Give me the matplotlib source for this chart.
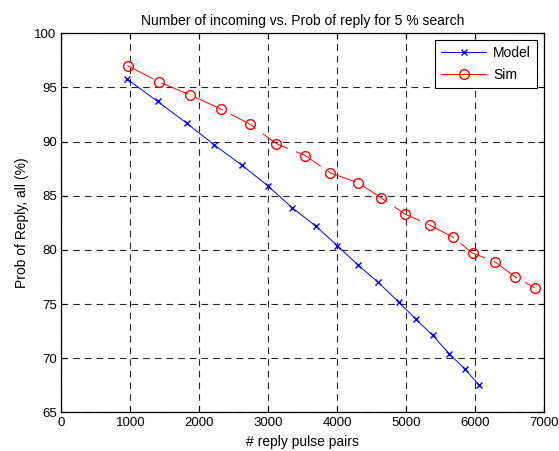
import matplotlib
matplotlib.use('Agg')
import matplotlib.pyplot as plt

plt.rcParams['font.family'] = ['Liberation Sans', 'DejaVu Sans']

# model curve
model_x = [945, 1394, 1814, 2215, 2621, 2997, 3345, 3688, 4003, 4302,
           4597, 4891, 5142, 5388, 5630, 5852, 6065]
model_y = [95.8, 93.7, 91.7, 89.7, 87.8, 85.9, 83.9, 82.2, 80.4, 78.6,
           77.0, 75.2, 73.6, 72.1, 70.4, 69.0, 67.5]

# simulation
sim_x = [959, 1413, 1867, 2312, 2732, 3119, 3539, 3901, 4302, 4640,
         4983, 5341, 5674, 5964, 6293, 6583, 6867]
sim_y = [97.0, 95.5, 94.3, 93.0, 91.6, 89.8, 88.7, 87.1, 86.2, 84.8,
         83.3, 82.3, 81.2, 79.7, 78.9, 77.5, 76.5]

fig = plt.figure(figsize=(5.59, 4.51), dpi=100)
ax = fig.add_axes([0.110, 0.0855, 0.863, 0.841])

ax.plot(model_x, model_y, color='blue', marker='x', markersize=4.5,
        linewidth=0.7, label='Model')
ax.plot(sim_x, sim_y, color='red', marker='o', markersize=7,
        markerfacecolor='none', linewidth=0.7, linestyle=(0, (30, 9)),
        label='Sim')

ax.set_xlim(0, 7000)
ax.set_ylim(65, 100)
ax.set_xticks(range(0, 7001, 1000))
ax.set_yticks(range(65, 101, 5))
ax.grid(True, color='black', linestyle=(0, (6, 4.5)), linewidth=0.8, alpha=0.85)
ax.tick_params(direction='in', top=True, right=True, labelsize=9.5, length=4)
for s in ax.spines.values():
    s.set_linewidth(0.9)

ax.set_title('Number of incoming vs. Prob of reply for 5 % search', fontsize=10)
ax.set_xlabel('# reply pulse pairs', fontsize=10)
ax.set_ylabel('Prob of Reply, all (%)', fontsize=10)

leg = ax.legend(loc='upper right', fontsize=10, fancybox=False,
                framealpha=1, edgecolor='black', handlelength=3.2,
                handletextpad=0.5, borderaxespad=0.5, labelspacing=0.55,
                borderpad=0.45)
leg.get_frame().set_linewidth(0.8)
# legend sample drawn solid, like the reference
leg.get_lines()[1].set_linestyle('-')

fig.savefig('out.png', dpi=100)
